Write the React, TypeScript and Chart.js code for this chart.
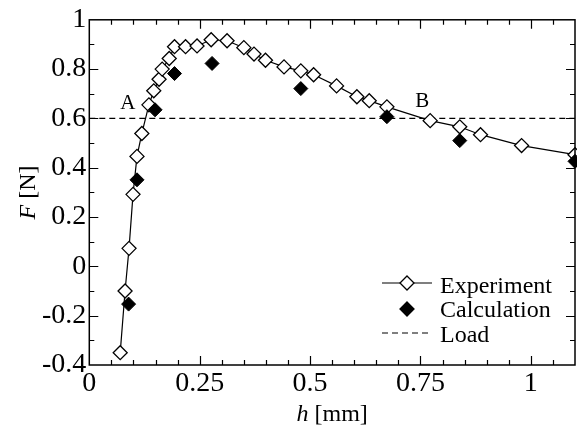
import React, { useEffect, useRef } from "react";
import { Chart, registerables } from "chart.js";

Chart.register(...registerables);

// ---- data ----
const expH = [0.07, 0.081, 0.09, 0.099, 0.108, 0.119, 0.135, 0.146, 0.158, 0.165, 0.181, 0.193, 0.218, 0.244, 0.276, 0.312, 0.35, 0.373, 0.399, 0.441, 0.479, 0.508, 0.56, 0.606, 0.634, 0.674, 0.772, 0.839, 0.886, 0.979, 1.1];
const expF = [-0.35, -0.1, 0.073, 0.292, 0.446, 0.539, 0.655, 0.712, 0.759, 0.8, 0.843, 0.891, 0.891, 0.894, 0.919, 0.915, 0.887, 0.861, 0.836, 0.809, 0.793, 0.777, 0.732, 0.688, 0.672, 0.647, 0.591, 0.566, 0.534, 0.49, 0.453];
const calcH = [0.089, 0.108, 0.149, 0.193, 0.278, 0.479, 0.674, 0.839, 1.1];
const calcF = [-0.153, 0.351, 0.635, 0.782, 0.823, 0.721, 0.607, 0.51, 0.426];
const loadF = 0.6;

const xMin = 0;
const xMax = 1.1;
const yMin = -0.4;
const yMax = 1;
const xTickValues = [0, 0.25, 0.5, 0.75, 1];
const yTickValues = [-0.4, -0.2, 0, 0.2, 0.4, 0.6, 0.8, 1];
const xMinorStep = 0.05;
const yMinorStep = 0.1;

const seriesNames = ["Experiment", "Calculation", "Load"];
const xTitleItalic = "h";
const xTitleRest = " [mm]";
const yTitleItalic = "F";
const yTitleRest = " [N]";
const annotationTexts = ["A", "B"];
const annotationH = [0.087, 0.754];
const annotationF = [0.639, 0.647];

const SERIF = "'Liberation Serif', 'Times New Roman', serif";

function fmt(v: number) {
  return String(Math.round(v * 100) / 100);
}

function diamond(ctx: CanvasRenderingContext2D, x: number, y: number, r: number, fill: string) {
  ctx.beginPath();
  ctx.moveTo(x, y - r);
  ctx.lineTo(x + r, y);
  ctx.lineTo(x, y + r);
  ctx.lineTo(x - r, y);
  ctx.closePath();
  ctx.fillStyle = fill;
  ctx.fill();
  ctx.lineWidth = 1.3;
  ctx.strokeStyle = "#000";
  ctx.stroke();
}

const decorPlugin = {
  id: "decor",
  afterDraw(chart: any) {
    const ctx: CanvasRenderingContext2D = chart.ctx;
    const a = chart.chartArea;
    const xs = chart.scales.x;
    const ys = chart.scales.y;
    ctx.save();
    ctx.strokeStyle = "#000";
    ctx.fillStyle = "#000";

    // inward ticks on all four sides
    const major = 9;
    const minor = 5;
    ctx.lineWidth = 1.2;
    const isMajor = (v: number, list: number[]) => list.some((t) => Math.abs(t - v) < 1e-6);
    for (let i = 0; xMin + i * xMinorStep <= xMax - 1e-6; i++) {
      const v = xMin + i * xMinorStep;
      if (v <= xMin + 1e-6) continue;
      const len = isMajor(v, xTickValues) ? major : minor;
      const px = Math.round(xs.getPixelForValue(v)) + 0.5;
      ctx.beginPath();
      ctx.moveTo(px, a.bottom);
      ctx.lineTo(px, a.bottom - len);
      ctx.moveTo(px, a.top);
      ctx.lineTo(px, a.top + len);
      ctx.stroke();
    }
    for (let i = 0; yMin + i * yMinorStep <= yMax + 1e-6; i++) {
      const v = yMin + i * yMinorStep;
      if (v <= yMin + 1e-6 || v >= yMax - 1e-6) continue;
      const len = isMajor(v, yTickValues) ? major : minor;
      const py = Math.round(ys.getPixelForValue(v)) + 0.5;
      ctx.beginPath();
      ctx.moveTo(a.left, py);
      ctx.lineTo(a.left + len, py);
      ctx.moveTo(a.right, py);
      ctx.lineTo(a.right - len, py);
      ctx.stroke();
    }

    // frame
    ctx.lineWidth = 1.5;
    ctx.strokeRect(a.left, a.top, a.right - a.left, a.bottom - a.top);

    // axis titles
    const titleSize = 24;
    const italic = `italic ${titleSize}px ${SERIF}`;
    const normal = `${titleSize}px ${SERIF}`;
    ctx.textBaseline = "alphabetic";
    ctx.textAlign = "left";
    // x title
    ctx.font = italic;
    const wxi = ctx.measureText(xTitleItalic).width;
    ctx.font = normal;
    const wxr = ctx.measureText(xTitleRest).width;
    const cx = (a.left + a.right) / 2;
    const sx = cx - (wxi + wxr) / 2;
    ctx.font = italic;
    ctx.fillText(xTitleItalic, sx, 421);
    ctx.font = normal;
    ctx.fillText(xTitleRest, sx + wxi, 421);
    // y title
    ctx.save();
    ctx.translate(35, (a.top + a.bottom) / 2);
    ctx.rotate(-Math.PI / 2);
    ctx.font = italic;
    const wyi = ctx.measureText(yTitleItalic).width;
    ctx.font = normal;
    const wyr = ctx.measureText(yTitleRest).width;
    const sy = -(wyi + wyr) / 2;
    ctx.font = italic;
    ctx.fillText(yTitleItalic, sy, 0);
    ctx.font = normal;
    ctx.fillText(yTitleRest, sy + wyi, 0);
    ctx.restore();

    // annotations
    ctx.font = `21px ${SERIF}`;
    ctx.textAlign = "center";
    annotationTexts.forEach((t, i) => {
      ctx.fillText(t, xs.getPixelForValue(annotationH[i]), ys.getPixelForValue(annotationF[i]));
    });

    // legend
    ctx.font = `24px ${SERIF}`;
    ctx.textAlign = "left";
    const l0 = a.right - 193;
    const l1 = a.right - 143;
    const tx = a.right - 135;
    const bases = [a.bottom - 72, a.bottom - 48, a.bottom - 23];
    // Experiment
    let cy = bases[0] - 10;
    ctx.lineWidth = 1.2;
    ctx.beginPath();
    ctx.moveTo(l0, cy);
    ctx.lineTo(l1, cy);
    ctx.stroke();
    diamond(ctx, (l0 + l1) / 2, cy, 7, "#fff");
    ctx.fillStyle = "#000";
    ctx.fillText(seriesNames[0], tx, bases[0]);
    // Calculation
    cy = bases[1] - 8;
    diamond(ctx, (l0 + l1) / 2, cy, 7, "#000");
    ctx.fillStyle = "#000";
    ctx.fillText(seriesNames[1], tx, bases[1]);
    // Load
    cy = bases[2] - 9;
    ctx.lineWidth = 1.2;
    ctx.setLineDash([6, 4]);
    ctx.beginPath();
    ctx.moveTo(l0, cy);
    ctx.lineTo(l1, cy);
    ctx.stroke();
    ctx.setLineDash([]);
    ctx.fillText(seriesNames[2], tx, bases[2]);

    ctx.restore();
  },
};

export default function App() {
  const ref = useRef<HTMLCanvasElement | null>(null);
  useEffect(() => {
    if (!ref.current) return;
    const tickFont = { family: SERIF, size: 28 };
    const chart = new Chart(ref.current, {
      type: "line",
      data: {
        datasets: [
          {
            label: seriesNames[1],
            data: calcH.map((h, i) => ({ x: h, y: calcF[i] })),
            showLine: false,
            pointStyle: "rectRot",
            pointRadius: 7,
            pointBackgroundColor: "#000",
            pointBorderColor: "#000",
            pointBorderWidth: 1,
            borderColor: "#000",
            order: 0,
            clip: false,
          } as any,
          {
            label: seriesNames[0],
            data: expH.map((h, i) => ({ x: h, y: expF[i] })),
            showLine: true,
            borderColor: "#000",
            borderWidth: 1.2,
            tension: 0,
            pointStyle: "rectRot",
            pointRadius: 7,
            pointBackgroundColor: "#fff",
            pointBorderColor: "#000",
            pointBorderWidth: 1.3,
            order: 1,
            clip: false,
          } as any,
          {
            label: seriesNames[2],
            data: [
              { x: xMin, y: loadF },
              { x: xMax, y: loadF },
            ],
            showLine: true,
            borderColor: "#000",
            borderWidth: 1.2,
            borderDash: [6, 4],
            pointRadius: 0,
            order: 2,
          } as any,
        ],
      },
      options: {
        responsive: false,
        animation: false,
        devicePixelRatio: 1,
        layout: { autoPadding: false, padding: { top: 19, right: 2, left: 0, bottom: 0 } },
        plugins: { legend: { display: false }, tooltip: { enabled: false } },
        scales: {
          x: {
            type: "linear",
            min: xMin,
            max: xMax,
            afterBuildTicks: (s: any) => {
              s.ticks = xTickValues.map((v) => ({ value: v }));
            },
            afterFit: (s: any) => {
              s.height = 65;
            },
            grid: { display: false, drawTicks: false },
            border: { display: false },
            ticks: {
              color: "#000",
              font: tickFont,
              padding: 2,
              maxRotation: 0,
              autoSkip: false,
              callback: (v: any) => fmt(Number(v)),
            },
          },
          y: {
            type: "linear",
            min: yMin,
            max: yMax,
            afterBuildTicks: (s: any) => {
              s.ticks = yTickValues.map((v) => ({ value: v }));
            },
            afterFit: (s: any) => {
              s.width = 89.3;
            },
            grid: { display: false, drawTicks: false },
            border: { display: false },
            ticks: {
              color: "#000",
              font: tickFont,
              padding: 3,
              autoSkip: false,
              callback: (v: any) => fmt(Number(v)),
            },
          },
        },
      } as any,
      plugins: [decorPlugin],
    });
    return () => chart.destroy();
  }, []);
  return (
    <div style={{ position: "fixed", left: 0, top: 0, width: 577, height: 430, background: "#fff" }}>
      <canvas ref={ref} width={577} height={430} style={{ display: "block" }} />
    </div>
  );
}
